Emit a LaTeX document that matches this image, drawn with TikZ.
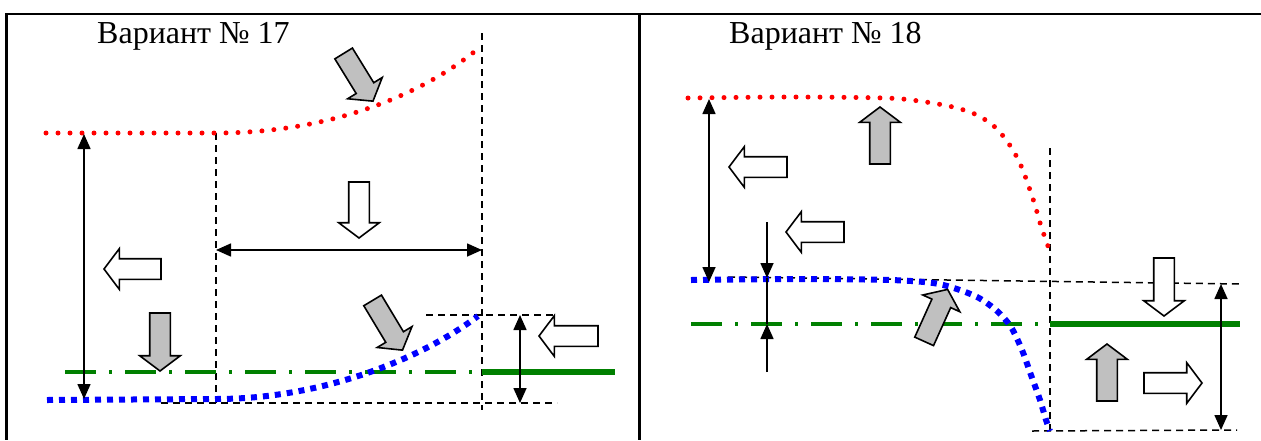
\documentclass[tikz,border=0pt]{standalone}
\usepackage{fontspec}
\setmainfont{Liberation Serif}
\usetikzlibrary{arrows.meta,shapes.arrows}
\definecolor{arrgray}{HTML}{C0C0C0}
\definecolor{grn}{HTML}{008000}
\begin{document}
\begin{tikzpicture}[x=1pt,y=-1pt,
  >={Triangle[length=15pt,width=13pt]},
  frameline/.style={line width=2.7pt},
  guideline/.style={line width=1.5pt, dash pattern=on 7pt off 5pt},
  dimline/.style={line width=1.6pt},
  reddot/.style={red, line width=5pt, line cap=round, dash pattern=on 0pt off 12pt},
  bluesq/.style={blue, line width=6pt, dash pattern=on 6pt off 6pt},
  greendd/.style={grn, line width=3.5pt, dash pattern=on 31pt off 13pt on 3pt off 13pt},
  greenaxis/.style={grn, line width=6pt},
  blk/.style={single arrow, draw=black, line width=1.6pt, inner xsep=0pt, inner ysep=9.5pt,
    text height=0pt, text depth=0pt, single arrow head extend=10pt,
    single arrow tip angle=106, single arrow head indent=0pt, anchor=tip, minimum height=57pt},
  hollow/.style={blk, fill=white},
  solidg/.style={blk, fill=arrgray},
  ttl/.style={font=\fontsize{32}{37}\selectfont, anchor=base west, inner sep=0pt}
]
\useasboundingbox (0,0) rectangle (1261,440);

% ---------- guide lines ----------
\draw[guideline] (216,133) -- (216,403);
\draw[guideline] (482,33) -- (482,410);
\draw[guideline] (426,315) -- (557,315);
\draw[guideline] (161,403) -- (557,403);
\draw[guideline] (1050,148) -- (1050,431);
\draw[guideline] (728,277) -- (1240,284);
\draw[guideline] (1032,431) -- (1237,430);

% ---------- green axes ----------
\draw[greendd] (65,372) -- (473,372);
\draw[greenaxis] (482,372) -- (615,372);
\draw[greendd] (691,324) -- (1040,324);
\draw[greenaxis] (1050,324) -- (1240,324);

% ---------- curves ----------
\draw[reddot] (46,133) -- (216,133) .. controls (330,133) and (420,95) .. (474,52);
\draw[bluesq] (47,400) -- (216,399) .. controls (320,399) and (420,360) .. (478,316);
\draw[reddot] plot[smooth] coordinates {(688,98) (790,97) (885,98) (919,101) (953,107) (977,115) (996,128) (1011,147) (1022,168) (1034,202) (1041,226) (1049,249)};
\draw[bluesq] plot[smooth] coordinates {(691,280) (800,279) (890,280) (933,283) (957,289) (979,298) (997,311) (1011,327) (1022,350) (1031,375) (1040,400) (1046,420) (1050,431)};

% ---------- dimension arrows ----------
\coordinate (L1a) at (84,134);  \coordinate (L1b) at (84,399);
\coordinate (L2a) at (216,250); \coordinate (L2b) at (482,250);
\coordinate (L3a) at (520,315); \coordinate (L3b) at (520,403);
\coordinate (R1a) at (709,99);  \coordinate (R1b) at (709,282);
\coordinate (R2a) at (767,222); \coordinate (R2b) at (767,278);
\coordinate (R2c) at (767,324); \coordinate (R2d) at (767,372);
\coordinate (R3a) at (1221,284); \coordinate (R3b) at (1221,430);
\draw[dimline,<->] (L1a) -- (L1b);
\draw[dimline,<->] (L2a) -- (L2b);
\draw[dimline,<->] (L3a) -- (L3b);
\draw[dimline,<->] (R1a) -- (R1b);
\draw[dimline,->] (R2a) -- (R2b);
\draw[dimline] (R2b) -- (R2c);
\draw[dimline,->] (R2d) -- (R2c);
\draw[dimline,<->] (R3a) -- (R3b);

% ---------- block arrows ----------
\node[solidg, rotate=-58.4, minimum height=56pt] (gL1) at (373.5,102) {};
\node[solidg, rotate=-59, minimum height=58pt] (gL2) at (403,351) {};
\node[hollow, rotate=-90, minimum height=56pt] (wL1) at (359,239) {};
\node[hollow, rotate=180] (wL2) at (103,269) {};
\node[solidg, rotate=-90, minimum height=58pt] (gL3) at (160,372) {};
\node[hollow, rotate=180, minimum height=59pt] (wL3) at (538,336) {};
\node[solidg, rotate=90] (gR1) at (880,106) {};
\node[hollow, rotate=180, minimum height=58pt] (wR1) at (728,167) {};
\node[hollow, rotate=180, minimum height=58pt] (wR2) at (785,232) {};
\node[solidg, rotate=65.7] (gR2) at (948,288.5) {};
\node[hollow, rotate=-90, minimum height=58pt] (wR3) at (1164,317) {};
\node[solidg, rotate=90] (gR3) at (1107,343) {};
\node[hollow, rotate=0, minimum height=58pt] (wR4) at (1203,383) {};

% ---------- frame ----------
\draw[frameline] (5.4,14) -- (1261,14);
\draw[frameline] (6.7,14) -- (6.7,440);
\draw[frameline] (639.3,14) -- (639.3,440);

% ---------- titles ----------
\node[ttl] (t17) at (97,43.5) {Вариант № 17};
\node[ttl] (t18) at (729,43.5) {Вариант № 18};
\end{tikzpicture}
\end{document}
